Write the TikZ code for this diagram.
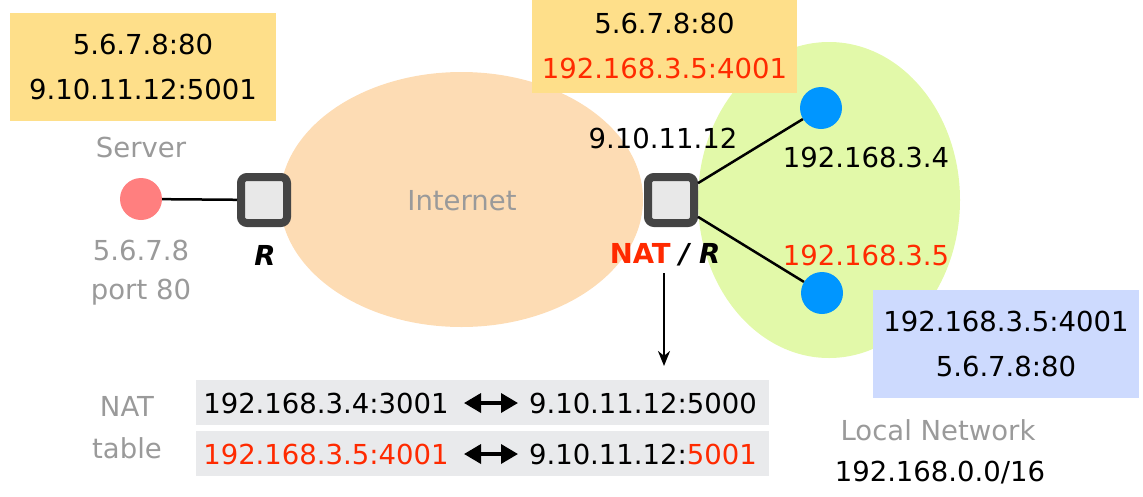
\documentclass[tikz,border=0pt]{standalone}
\usepackage{fontspec}
\setmainfont{DejaVu Sans}
\usetikzlibrary{arrows.meta,shapes.geometric}
\definecolor{peach}{HTML}{FDDCB4}
\definecolor{lgreen}{HTML}{E2F9A9}
\definecolor{boxyellow}{HTML}{FEDF8A}
\definecolor{boxblue}{HTML}{CDDAFE}
\definecolor{rowgray}{HTML}{E9EAEC}
\definecolor{rfill}{HTML}{E8E8E8}
\definecolor{rborder}{HTML}{444444}
\definecolor{srvred}{HTML}{FF7F7F}
\definecolor{hostblue}{HTML}{0096FF}
\definecolor{txtgray}{HTML}{9A9A9A}
\definecolor{natred}{HTML}{FF2A00}
\tikzset{
  router/.style={draw=rborder, fill=rfill, line width=8pt, rounded corners=6pt, minimum size=46pt, inner sep=0pt},
  dot/.style={circle, minimum size=42pt, inner sep=0pt},
  infobox/.style={minimum width=266pt, align=center, inner sep=0pt, font=\fontsize{27.5}{45}\selectfont},
  row/.style={fill=rowgray, minimum width=573pt, minimum height=45pt, inner sep=0pt},
  glabel/.style={text=txtgray, inner sep=0pt},
  plain/.style={inner sep=0pt},
  link/.style={line width=2.5pt},
  dbl/.style={line width=3.5pt, {Triangle[length=17pt,width=19pt]}-{Triangle[length=17pt,width=19pt]}},
}
\begin{document}
\begin{tikzpicture}[x=1pt,y=-1pt, font=\fontsize{27.5}{32}\selectfont]
\useasboundingbox (0,0) rectangle (1143,496);
% clouds
\node[ellipse, fill=peach, minimum width=363pt, minimum height=255pt, inner sep=0pt] (inet) at (461.5,199.5) {};
\node[glabel] (inetlbl) at (462,201) {Internet};
\node[ellipse, fill=lgreen, minimum width=262pt, minimum height=316pt, inner sep=0pt] (lan) at (829,200) {};
% info boxes
\node[infobox, fill=boxyellow, minimum height=108pt] (box1) at (143,67) {5.6.7.8:80\\9.10.11.12:5001};
\node[infobox, fill=boxyellow, minimum height=94pt, minimum width=265pt] (box2) at (664.5,46) {5.6.7.8:80\\\textcolor{natred}{192.168.3.5:4001}};
\node[infobox, fill=boxblue, minimum height=108pt] (box3) at (1006,344) {192.168.3.5:4001\\5.6.7.8:80};
% server side
\node[glabel] (srvlbl) at (141,147) {Server};
\node[dot, fill=srvred] (srv) at (141,199) {};
\node[router] (r1) at (264,200) {};
\draw[link] (srv) -- (r1);
\node[plain] (r1lbl) at (265,255) {\textbf{\textit{R}}};
\node[glabel] (srvip) at (141,250) {5.6.7.8};
\node[glabel] (srvport) at (141,292) {port 80};
% NAT router
\node[plain] (natip) at (663,138) {9.10.11.12};
\node[router] (nat) at (671,200) {};
\node[plain] (natlbl) at (665,255) {\textbf{\textcolor{natred}{NAT}}~\textbf{\textit{/~R}}};
\node[dot, fill=hostblue] (h1) at (821,108) {};
\node[dot, fill=hostblue] (h2) at (822,293) {};
\draw[link] (nat.32) -- (h1);
\draw[link] (nat.-32) -- (h2);
\node[plain] (h1lbl) at (866,157) {192.168.3.4};
\node[plain, text=natred] (h2lbl) at (866,255) {192.168.3.5};
% NAT table
\coordinate (tbltop) at (664,366);
\coordinate (natdown) at (664,273);
\draw[link, -{Stealth[length=15pt,width=12pt]}] (natdown) -- (tbltop);
\node[row] (row1) at (482.5,402) {};
\node[row] (row2) at (482.5,453) {};
\node[plain] (l1) at (326,403) {192.168.3.4:3001};
\node[plain] (m1) at (643,403) {9.10.11.12:5000};
\node[plain, text=natred] (l2) at (326,454) {192.168.3.5:4001};
\node[plain] (m2) at (643,454) {9.10.11.12:\textcolor{natred}{5001}};
\coordinate (a1l) at (464,403);
\coordinate (a1r) at (518,403);
\coordinate (a2l) at (464,454);
\coordinate (a2r) at (518,454);
\draw[dbl] (a1l) -- (a1r);
\draw[dbl] (a2l) -- (a2r);
\node[glabel] (tlbl1) at (127,406) {NAT};
\node[glabel] (tlbl2) at (127,448) {table};
% local network labels
\node[glabel] (lanlbl) at (938,430) {Local Network};
\node[plain] (lanip) at (940,473) {192.168.0.0/16};
\end{tikzpicture}
\end{document}
